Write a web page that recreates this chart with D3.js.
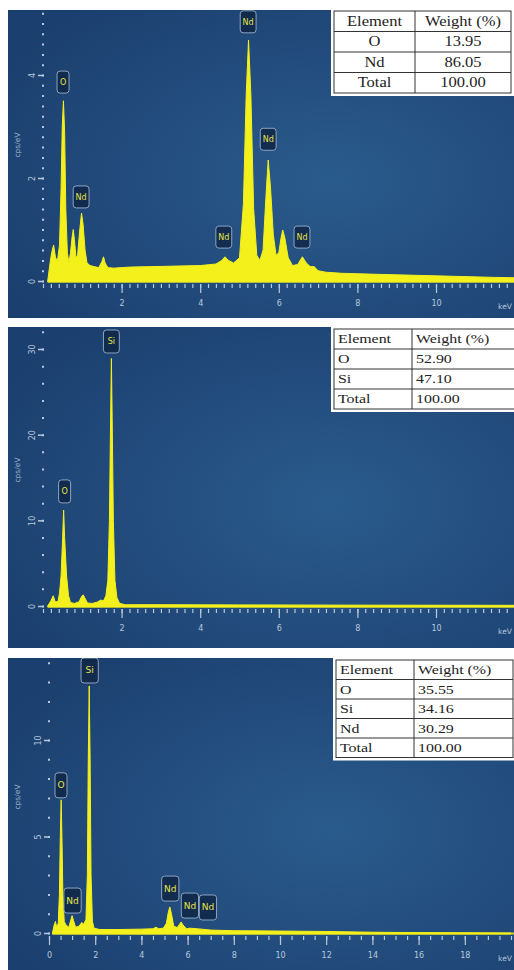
<!DOCTYPE html>
<html>
<head>
<meta charset="utf-8">
<script src="https://cdn.jsdelivr.net/npm/d3@7"></script>
<style>
body { margin: 0; background: #fff; }
svg { display: block; }
</style>
</head>
<body>
<div id="chart"></div>
<script>
// ---------------- datos ----------------
// espectro 1 (Nd2O3): [keV, cps/eV]
const spectrum1 = [
  [0.12,0],[0.18,0.35],[0.22,0.55],[0.27,0.7],[0.32,0.45],[0.37,0.4],[0.42,0.7],[0.46,1.8],[0.49,3.0],[0.52,3.5],
  [0.55,2.9],[0.58,1.4],[0.62,0.55],[0.66,0.35],[0.70,0.55],[0.74,0.85],[0.77,1.0],[0.80,0.8],[0.84,0.45],[0.88,0.5],
  [0.93,0.95],[0.98,1.32],[1.02,1.1],[1.07,0.6],[1.12,0.35],[1.20,0.3],[1.30,0.28],[1.42,0.26],[1.50,0.38],[1.54,0.47],
  [1.58,0.35],[1.65,0.26],[1.80,0.25],[2.2,0.27],[2.8,0.28],[3.4,0.29],[4.0,0.3],[4.4,0.33],[4.55,0.4],[4.63,0.47],
  [4.72,0.4],[4.85,0.35],[5.0,0.45],[5.1,1.5],[5.17,3.6],[5.23,4.68],[5.29,3.6],[5.36,1.4],[5.44,0.5],[5.52,0.4],
  [5.6,0.6],[5.67,1.6],[5.73,2.35],[5.79,1.8],[5.86,0.9],[5.93,0.5],[6.0,0.55],[6.06,0.85],[6.1,0.99],[6.15,0.85],
  [6.24,0.45],[6.35,0.3],[6.48,0.32],[6.6,0.47],[6.7,0.35],[6.8,0.28],[6.9,0.28],[7.0,0.2],[7.2,0.17],[7.6,0.15],
  [8.5,0.13],[9.5,0.11],[10.5,0.09],[11.5,0.07],[12.2,0.06]
];
// espectro 2 (SiO2)
const spectrum2 = [
  [0.12,0],[0.2,0.6],[0.26,1.2],[0.31,0.5],[0.38,0.5],[0.42,1.5],[0.46,3.5],[0.5,8],[0.525,11.2],[0.55,8],
  [0.6,3.5],[0.65,1.2],[0.7,0.4],[0.8,0.3],[0.92,0.5],[0.98,1.1],[1.02,1.3],[1.07,0.9],[1.13,0.35],[1.25,0.3],
  [1.38,0.45],[1.47,0.7],[1.54,0.6],[1.6,1.2],[1.65,3],[1.69,10],[1.72,22],[1.74,28.9],[1.76,22],[1.79,10],
  [1.83,3],[1.88,1.0],[1.95,0.3],[2.1,0.15],[3,0.15],[5,0.13],[8,0.1],[12.2,0.08]
];
// espectro 3 (Nd2O3 / SiO2)
const spectrum3 = [
  [0.15,0],[0.22,0.4],[0.28,0.6],[0.33,0.3],[0.4,0.5],[0.45,2],[0.49,5],[0.525,6.9],[0.56,5],[0.6,2],
  [0.66,0.6],[0.74,0.4],[0.86,0.3],[0.95,0.7],[1.0,0.9],[1.06,0.65],[1.15,0.3],[1.3,0.35],[1.42,0.55],[1.5,0.45],
  [1.6,0.7],[1.66,3],[1.7,9],[1.74,12.8],[1.78,9],[1.82,3],[1.88,0.6],[1.95,0.25],[2.2,0.18],[3,0.18],
  [4,0.2],[4.5,0.22],[4.63,0.3],[4.75,0.22],[4.95,0.25],[5.08,0.5],[5.17,1.1],[5.23,1.35],[5.3,1.0],[5.4,0.35],
  [5.55,0.28],[5.65,0.45],[5.72,0.57],[5.8,0.42],[5.95,0.22],[6.1,0.25],[6.6,0.2],[7,0.15],[8,0.12],[10,0.1],
  [12,0.08],[14,0.04],[16,0.02],[20,0]
];

// etiquetas de picos: [elemento, keV, cps/eV del pie de la etiqueta]
const peaks1 = [["O",0.51,3.61],["Nd",0.97,1.38],["Nd",4.6,0.6],["Nd",5.22,4.78],["Nd",5.73,2.5],["Nd",6.59,0.6]];
const peaks2 = [["O",0.55,11.8],["Si",1.74,29.3]];
const peaks3 = [["O",0.52,6.9],["Si",1.76,12.85],["Nd",1.02,0.93],["Nd",5.25,1.55],["Nd",6.1,0.67],["Nd",6.88,0.57]];

// ticks de los ejes
const yTicks1 = [0, 2, 4];
const yTicks2 = [0, 10, 20, 30];
const yTicks3 = [0, 5, 10];
const xTicks1 = [2, 4, 6, 8, 10];
const xTicks2 = [2, 4, 6, 8, 10];
const xTicks3 = [0, 2, 4, 6, 8, 10, 12, 14, 16, 18];

// tablas de composicion
const tableHeader = ["Element", "Weight (%)"];
const table1Elements = ["O", "Nd", "Total"];
const table1Weights = ["13.95", "86.05", "100.00"];
const table2Elements = ["O", "Si", "Total"];
const table2Weights = ["52.90", "47.10", "100.00"];
const table3Elements = ["O", "Si", "Nd", "Total"];
const table3Weights = ["35.55", "34.16", "30.29", "100.00"];

// ---------------- lienzo ----------------
const width = 514;
const height = 970;

const svg = d3.select("div#chart").append("svg").attr("width", width).attr("height", height)

const defs = svg.append("defs")
const grad = defs.append("radialGradient").attr("id", "bg")
    .attr("cx", "64%").attr("cy", "55%").attr("r", "75%")
grad.append("stop").attr("offset", "0%").attr("stop-color", "#2a5b8d")
grad.append("stop").attr("offset", "100%").attr("stop-color", "#1b3f6e")

const yellow = "#f3f01c";
const tickColor = "#b9c8dc";

const panels = [
    { id: 1, top: 10, bottom: 318, spectrum: spectrum1, peaks: peaks1,
      xDomain: [0, 12], xRange: [43, 514.6], yDomain: [0, 5], yRange: [281, 23.5],
      yTicks: yTicks1, yMinor: d3.range(0, 5.3, 0.2), xTicks: xTicks1, xMinor: d3.range(0, 12.01, 0.2),
      labelFont: 8, boxH: 24, yLabelY: 145,
      table: { cols: [334, 415, 511], top: 11, rowH: 20.5, elements: table1Elements, weights: table1Weights, center: true, font: 14 } },
    { id: 2, top: 327, bottom: 648, spectrum: spectrum2, peaks: peaks2,
      xDomain: [0, 12], xRange: [43, 514.6], yDomain: [0, 30], yRange: [606, 349],
      yTicks: yTicks2, yMinor: d3.range(0, 33, 2), xTicks: xTicks2, xMinor: d3.range(0, 12.01, 0.2),
      labelFont: 8, boxH: 25, yLabelY: 470,
      table: { cols: [334, 412, 516], top: 329, rowH: 20, elements: table2Elements, weights: table2Weights, center: false, font: 13.5 } },
    { id: 3, top: 658, bottom: 970, spectrum: spectrum3, peaks: peaks3,
      xDomain: [0, 20], xRange: [49, 511], yDomain: [0, 10], yRange: [933, 740],
      yTicks: yTicks3, yMinor: d3.range(0, 15, 1), xTicks: xTicks3, xMinor: d3.range(0, 20.01, 0.5),
      labelFont: 9, boxH: 27, yLabelY: 797,
      table: { cols: [336, 414, 513], top: 660, rowH: 19.5, elements: table3Elements, weights: table3Weights, center: false, font: 13.5 } }
];

panels.forEach(p => drawPanel(p))

function drawPanel(p) {
    const g = svg.append("g").attr("class", "panel" + p.id)

    defs.append("clipPath").attr("id", "clip" + p.id)
        .append("rect").attr("x", 8).attr("y", p.top).attr("width", width - 8).attr("height", p.bottom - p.top)

    g.append("rect").attr("x", 8).attr("y", p.top).attr("width", width - 8).attr("height", p.bottom - p.top)
        .attr("fill", "url(#bg)")

    const inner = g.append("g").attr("clip-path", `url(#clip${p.id})`)

    const x = d3.scaleLinear().domain(p.xDomain).range(p.xRange)
    const y = d3.scaleLinear().domain(p.yDomain).range(p.yRange)

    // eje y: puntos menores + ticks mayores con etiquetas giradas
    const yMinorAxis = d3.axisLeft(y).tickValues(p.yMinor).tickSize(2).tickFormat("")
    inner.append("g").attr("transform", `translate(${x(0) + 1}, 0)`).call(yMinorAxis)
        .call(a => a.select(".domain").remove())
        .selectAll("line").attr("stroke", tickColor).attr("stroke-width", 2)

    const yAxis = d3.axisLeft(y).tickValues(p.yTicks).tickSize(6).tickFormat(d3.format("d"))
    const yg = inner.append("g").attr("transform", `translate(${x(0) + 1}, 0)`).call(yAxis)
    yg.select(".domain").remove()
    yg.selectAll("line").attr("stroke", tickColor).attr("stroke-width", 1.5)
    yg.selectAll("text")
        .attr("transform", "rotate(-90)")
        .attr("x", 0).attr("y", -9).attr("dy", 0)
        .attr("text-anchor", "middle")
        .attr("fill", tickColor).attr("font-size", 8).attr("font-family", "DejaVu Sans")

    inner.append("text")
        .attr("transform", `translate(20, ${p.yLabelY}) rotate(-90)`)
        .attr("text-anchor", "middle")
        .attr("fill", "#9fb3cc").attr("font-size", 7.5).attr("font-family", "DejaVu Sans")
        .text("cps/eV")

    // eje x
    const base = y(0) + 3
    const xMinorAxis = d3.axisBottom(x).tickValues(p.xMinor).tickSize(4).tickFormat("")
    inner.append("g").attr("transform", `translate(0, ${base})`).call(xMinorAxis)
        .call(a => a.select(".domain").remove())
        .selectAll("line").attr("stroke", tickColor).attr("stroke-width", 1.2)

    const xAxis = d3.axisBottom(x).tickValues(p.xTicks).tickSize(9).tickPadding(7).tickFormat(d3.format("d"))
    const xg = inner.append("g").attr("transform", `translate(0, ${base})`).call(xAxis)
    xg.select(".domain").remove()
    xg.selectAll("line").attr("stroke", tickColor).attr("stroke-width", 1.2)
    xg.selectAll("text").attr("fill", tickColor).attr("font-size", 8).attr("font-family", "DejaVu Sans")

    inner.append("text")
        .attr("x", 505).attr("y", base + 25)
        .attr("text-anchor", "middle")
        .attr("fill", tickColor).attr("font-size", 7.5).attr("font-family", "DejaVu Sans")
        .text("keV")

    // espectro
    const area = d3.area()
        .x(d => x(d[0]))
        .y0(y(0) + 1)
        .y1(d => y(d[1]))

    inner.append("path")
        .datum(p.spectrum)
        .attr("d", area)
        .attr("fill", yellow)
        .attr("stroke", yellow)
        .attr("stroke-width", 1)
        .attr("stroke-linejoin", "round")

    inner.append("line")
        .attr("x1", x(p.spectrum[0][0])).attr("x2", width)
        .attr("y1", y(0) + 0.5).attr("y2", y(0) + 0.5)
        .attr("stroke", yellow).attr("stroke-width", 2).attr("opacity", 0.8)

    // etiquetas de los picos
    const labels = inner.selectAll(".peakLabel")
        .data(p.peaks)
        .enter().append("g")
        .attr("class", "peakLabel")
        .attr("transform", d => `translate(${x(d[1])}, ${y(d[2])})`)

    labels.append("rect")
        .attr("x", d => -Math.max(12, d[0].length * p.labelFont * 0.68 + 5) / 2)
        .attr("y", -p.boxH)
        .attr("width", d => Math.max(12, d[0].length * p.labelFont * 0.68 + 5))
        .attr("height", p.boxH - 2)
        .attr("rx", 3)
        .attr("fill", "#0f2746").attr("fill-opacity", 0.85)
        .attr("stroke", "#8ea3c0").attr("stroke-width", 1)

    labels.append("text")
        .attr("y", -p.boxH / 2 + 2)
        .attr("text-anchor", "middle")
        .attr("fill", "#e6e44a")
        .attr("font-size", p.labelFont)
        .attr("font-family", "DejaVu Sans")
        .text(d => d[0])

    drawTable(g, p.table)
}

function drawTable(g, t) {
    const rows = [tableHeader].concat(t.elements.map((e, i) => [e, t.weights[i]]))
    const x0 = t.cols[0], x2 = t.cols[2]
    const bottom = t.top + rows.length * t.rowH

    g.append("rect")
        .attr("x", x0 - 3).attr("y", t.top - 3)
        .attr("width", x2 - x0 + 6).attr("height", bottom - t.top + 6)
        .attr("fill", "#fff")

    g.append("rect")
        .attr("x", x0).attr("y", t.top)
        .attr("width", x2 - x0).attr("height", bottom - t.top)
        .attr("fill", "none").attr("stroke", "#333").attr("stroke-width", 1)

    g.append("line")
        .attr("x1", t.cols[1]).attr("x2", t.cols[1])
        .attr("y1", t.top).attr("y2", bottom)
        .attr("stroke", "#333").attr("stroke-width", 1)

    g.selectAll(".rowLine" + t.top)
        .data(d3.range(1, rows.length))
        .enter().append("line")
        .attr("x1", x0).attr("x2", x2)
        .attr("y1", i => t.top + i * t.rowH).attr("y2", i => t.top + i * t.rowH)
        .attr("stroke", "#333").attr("stroke-width", 1)

    rows.forEach((r, i) => {
        r.forEach((txt, j) => {
            const cx = t.center ? (t.cols[j] + t.cols[j + 1]) / 2 : t.cols[j] + 4
            g.append("text")
                .attr("transform", `translate(${cx}, ${t.top + (i + 0.5) * t.rowH + t.font * 0.33}) scale(1.18, 1)`)
                .attr("text-anchor", t.center ? "middle" : "start")
                .attr("fill", "#222")
                .attr("font-size", t.font)
                .attr("font-family", "Liberation Serif")
                .text(txt)
        })
    })
}
</script>
</body>
</html>
